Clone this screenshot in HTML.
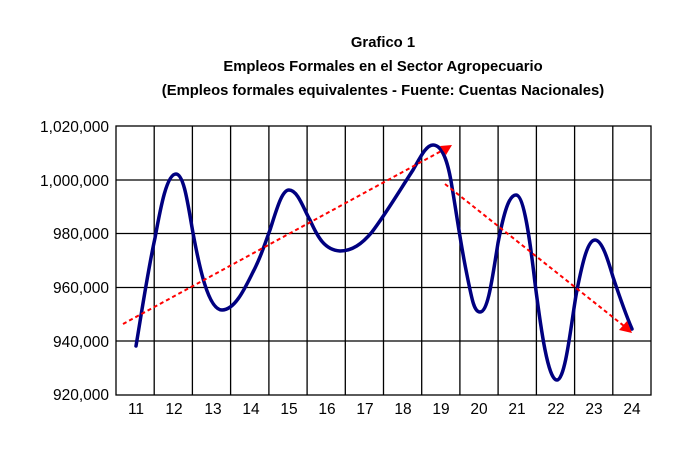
<!DOCTYPE html>
<html><head><meta charset="utf-8"><style>
body{margin:0;background:#fff}
svg{display:block}
</style></head><body>
<svg width="691" height="451" xmlns="http://www.w3.org/2000/svg" font-family="Liberation Sans, sans-serif">
<rect width="691" height="451" fill="#fff"/>
<g font-weight="bold" font-size="14.8" text-anchor="middle" fill="#000">
<text x="383" y="47">Grafico 1</text>
<text x="383" y="71">Empleos Formales en el Sector Agropecuario</text>
<text x="383" y="95">(Empleos formales equivalentes - Fuente: Cuentas Nacionales)</text>
</g>
<g stroke="#000" stroke-width="1.3" fill="none">
<rect x="116" y="126" width="535" height="269"/>
<path d="M116 180H651M116 233.5H651M116 287.5H651M116 341H651"/>
<path d="M154.2 126V395M192.4 126V395M230.6 126V395M268.9 126V395M307.1 126V395M345.3 126V395M383.5 126V395M421.7 126V395M459.9 126V395M498.1 126V395M536.4 126V395M574.6 126V395M612.8 126V395"/>
</g>
<g font-size="15.5" text-anchor="end" fill="#000">
<text x="109" y="132">1,020,000</text>
<text x="109" y="186">1,000,000</text>
<text x="109" y="239">980,000</text>
<text x="109" y="293">960,000</text>
<text x="109" y="347">940,000</text>
<text x="109" y="400">920,000</text>
</g>
<g font-size="15.5" text-anchor="middle" fill="#000">
<text x="136" y="414">11</text><text x="174" y="414">12</text><text x="213" y="414">13</text><text x="251" y="414">14</text><text x="289" y="414">15</text><text x="327" y="414">16</text><text x="365" y="414">17</text><text x="403" y="414">18</text><text x="441" y="414">19</text><text x="479" y="414">20</text><text x="517" y="414">21</text><text x="556" y="414">22</text><text x="594" y="414">23</text><text x="632" y="414">24</text>
</g>
<path fill="none" stroke="#000080" stroke-width="3.5" stroke-linejoin="round" stroke-linecap="round"
d="M136 346 C142 310,148 270,155 238 C161 205,167 174,176 174 C184 174,188 205,193 233 C199 265,208 310,222 310 C235 310,245 288,253 272 C262 255,266 240,270 230 C277 208,282 190,289 190 C298 190,304 210,310 220 C318 238,325 250,340 251 C352 251,362 244,372 232 C385 215,400 190,413 170 C420 158,426 145,433 145 C444 145,449 168,452 187 C456 210,460 240,466 270 C472 300,474 312,480 312 C488 312,492 280,498 243 C504 212,509 195,516 195 C524 195,530 240,535 283 C541 330,548 380,557 380 C566 380,572 315,577 290 C583 260,588 240,595 240 C602 240,608 260,613 277 C620 298,626 315,632 329"/>
<g stroke="#ff0000" stroke-width="2" stroke-dasharray="4,3" fill="none">
<path d="M123 324 L445 149"/>
<path d="M445 184 L624 326"/>
</g>
<polygon points="452,145 440,146 446,155" fill="#ff0000"/>
<polygon points="632,333 619,330 627,321" fill="#ff0000"/>
</svg>
</body></html>
